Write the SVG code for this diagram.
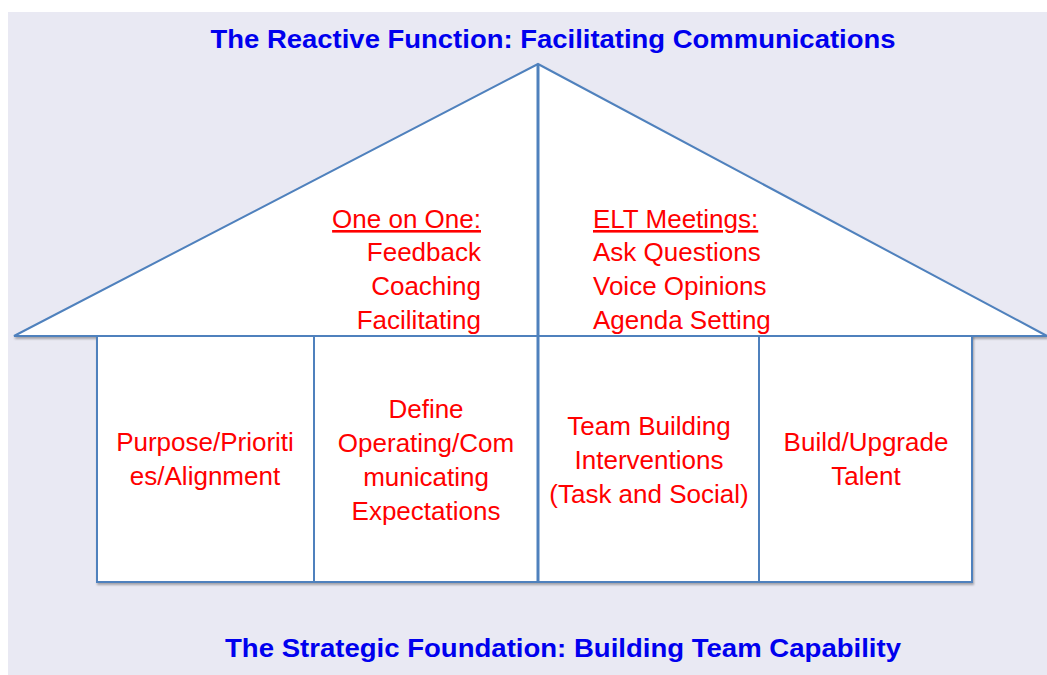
<svg xmlns="http://www.w3.org/2000/svg" width="1047" height="675" viewBox="0 0 1047 675">
<defs>
<filter id="sh" x="-5%" y="-5%" width="110%" height="110%">
<feDropShadow dx="1" dy="2" stdDeviation="1.2" flood-color="#000" flood-opacity="0.3"/>
</filter>
<style>
.ln{fill:#fff;stroke:#4F81BD;stroke-width:2}
.t{font-family:"Liberation Sans",Arial,sans-serif;font-size:26px;fill:#FF0000}
.h{font-family:"Liberation Sans",Arial,sans-serif;font-size:26px;font-weight:bold;fill:#0000EE}
</style>
</defs>
<rect x="0" y="0" width="1047" height="675" fill="#fff"/>
<rect x="8" y="12" width="1039" height="663" fill="#E9E9F3"/>
<text class="h" x="553" y="48" text-anchor="middle" textLength="685" lengthAdjust="spacingAndGlyphs">The Reactive Function: Facilitating Communications</text>
<text class="h" x="563" y="657" text-anchor="middle" textLength="676" lengthAdjust="spacingAndGlyphs">The Strategic Foundation: Building Team Capability</text>
<g id="roof" filter="url(#sh)">
<polygon class="ln" points="14,336 538,64 1047,336"/>
</g>
<g id="walls" filter="url(#sh)">
<rect class="ln" x="97" y="336" width="875" height="246"/>
</g>
<g id="connectors" stroke="#4F81BD" fill="none">
<line x1="538" y1="64" x2="538" y2="582" stroke-width="3"/>
<line x1="314" y1="336" x2="314" y2="582" stroke-width="2"/>
<line x1="759" y1="336" x2="759" y2="582" stroke-width="2"/>
<line x1="14" y1="336" x2="1047" y2="336" stroke-width="2"/>
</g>
<g id="one-on-one" text-anchor="end">
<text class="t" x="481" y="228" text-decoration="underline">One on One:</text>
<text class="t" x="481" y="261">Feedback</text>
<text class="t" x="481" y="295">Coaching</text>
<text class="t" x="481" y="329">Facilitating</text>
</g>
<g id="elt-meetings">
<text class="t" x="593" y="228" text-decoration="underline">ELT Meetings:</text>
<text class="t" x="593" y="261">Ask Questions</text>
<text class="t" x="593" y="295">Voice Opinions</text>
<text class="t" x="593" y="329">Agenda Setting</text>
</g>
<g id="purpose" text-anchor="middle">
<text class="t" x="205" y="451">Purpose/Prioriti</text>
<text class="t" x="205" y="485">es/Alignment</text>
</g>
<g id="define" text-anchor="middle">
<text class="t" x="426" y="418">Define</text>
<text class="t" x="426" y="452">Operating/Com</text>
<text class="t" x="426" y="486">municating</text>
<text class="t" x="426" y="520">Expectations</text>
</g>
<g id="team-building" text-anchor="middle">
<text class="t" x="649" y="435">Team Building</text>
<text class="t" x="649" y="469">Interventions</text>
<text class="t" x="649" y="503">(Task and Social)</text>
</g>
<g id="talent" text-anchor="middle">
<text class="t" x="866" y="451">Build/Upgrade</text>
<text class="t" x="866" y="485">Talent</text>
</g>
</svg>
